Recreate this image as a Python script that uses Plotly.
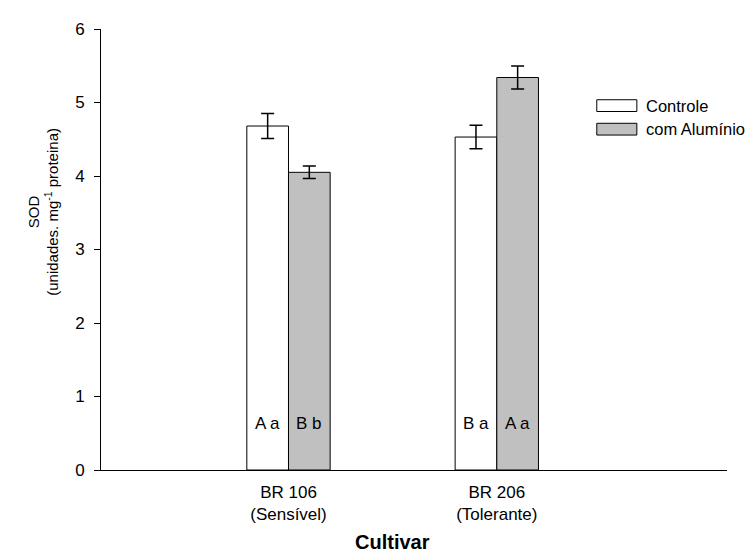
import plotly.graph_objects as go

# ---- data ----
cultivars = ["BR 106<br>(Sensível)", "BR 206<br>(Tolerante)"]
series_names = ["Controle", "com Alumínio"]
controle = [4.68, 4.53]
controle_err = [0.17, 0.16]
aluminio = [4.05, 5.34]
aluminio_err = [0.085, 0.155]
letters_controle = ["A a", "B a"]
letters_aluminio = ["B b", "A a"]
y_ticks = [0, 1, 2, 3, 4, 5, 6]

FONT = "Arial, 'Liberation Sans', sans-serif"
xpos = [1, 2]
fill_colors = ["white", "#c0c0c0"]

fig = go.Figure()
for name, vals, errs, col in [
    (series_names[0], controle, controle_err, fill_colors[0]),
    (series_names[1], aluminio, aluminio_err, fill_colors[1]),
]:
    fig.add_trace(go.Bar(
        x=xpos, y=vals, name=name,
        marker=dict(color=col, line=dict(color="black", width=1)),
        error_y=dict(type="data", array=errs, visible=True,
                     color="black", thickness=1.5, width=6.5),
        showlegend=False,
    ))

# letters inside bars
for i, xp in enumerate(xpos):
    fig.add_annotation(x=xp - 0.1, y=0.63, text=letters_controle[i],
                       showarrow=False, font=dict(family=FONT, size=17, color="black"))
    fig.add_annotation(x=xp + 0.1, y=0.63, text=letters_aluminio[i],
                       showarrow=False, font=dict(family=FONT, size=17, color="black"))

# manual legend
leg_x0, leg_x1, leg_tx = 0.792, 0.856, 0.867
leg_rows = [(0.8396, 0.8129), (0.7862, 0.7595)]
for (y0, y1), name, col in zip(leg_rows, series_names, fill_colors):
    fig.add_shape(type="rect", xref="paper", yref="paper",
                  x0=leg_x0, x1=leg_x1, y0=y1, y1=y0,
                  fillcolor=col, line=dict(color="black", width=1))
    fig.add_annotation(xref="paper", yref="paper", x=leg_tx, y=(y0 + y1) / 2,
                       text=name, showarrow=False, xanchor="left", yanchor="middle",
                       font=dict(family=FONT, size=16.5, color="black"))

# y-axis title
fig.add_annotation(xref="paper", yref="paper", x=-0.093, y=0.585,
                   text="SOD<br>(unidades. mg<sup>-1</sup> proteina)",
                   textangle=-90, showarrow=False, xanchor="center", yanchor="middle",
                   font=dict(family=FONT, size=15, color="black"))
# x-axis title
fig.add_annotation(xref="x", yref="paper", x=1.5, y=-0.163,
                   text="<b>Cultivar</b>", showarrow=False,
                   xanchor="center", yanchor="middle",
                   font=dict(family=FONT, size=20, color="black"))

fig.update_layout(
    width=746, height=545,
    margin=dict(l=93, r=27, t=13, b=83),
    paper_bgcolor="white", plot_bgcolor="white",
    barmode="group", bargap=0.6, bargroupgap=0,
    font=dict(family=FONT, size=17, color="black"),
    xaxis=dict(range=[0.1, 3.105], tickmode="array", tickvals=xpos,
               ticktext=cultivars, showgrid=False, zeroline=False,
               showline=True, linecolor="black", linewidth=1.3, ticks="",
               ticklabelstandoff=6,
               tickfont=dict(family=FONT, size=17, color="black")),
    yaxis=dict(range=[0, 6], tickmode="array", tickvals=y_ticks,
               showgrid=False, zeroline=False, showline=True,
               linecolor="black", linewidth=1, ticks="outside", ticklen=6,
               tickcolor="black", tickwidth=1, ticklabelstandoff=6,
               tickfont=dict(family=FONT, size=17, color="black")),
)

fig.write_html("out.html")
